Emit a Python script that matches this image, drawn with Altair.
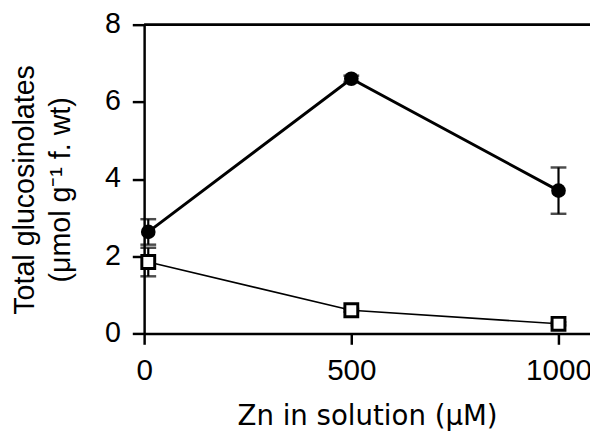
import altair as alt
import pandas as pd

zn = [10, 500, 1000]
filled_mean = [2.63, 6.6, 3.7]
filled_err = [0.33, 0.08, 0.6]
open_mean = [1.85, 0.6, 0.25]
open_err = [0.37, 0.04, 0.04]

rows = []
for x, m, e in zip(zn, filled_mean, filled_err):
    rows.append({"zn": x, "mean": m, "lo": m - e, "hi": m + e, "series": "filled"})
for x, m, e in zip(zn, open_mean, open_err):
    rows.append({"zn": x, "mean": m, "lo": m - e, "hi": m + e, "series": "open"})
df = pd.DataFrame(rows)

FONT = "Liberation Sans"
XTITLE = "Zn in solution (μM)"
YTITLE = ["Total glucosinolates", "(μmol g⁻¹ f. wt)"]

xscale = alt.Scale(domain=[0, 1076], nice=False, zero=False)
yscale = alt.Scale(domain=[0, 8], nice=False)
xaxis = alt.Axis(values=[0, 500, 1000], format="d", labelFlush=False,
                 labelFontSize=30, tickSize=11, labelPadding=12,
                 titleFont="DejaVu Sans", titleFontSize=28, titlePadding=17)
yaxis = alt.Axis(values=[0, 2, 4, 6, 8], labelFontSize=29, tickSize=12,
                 labelPadding=12, labelOffset=-1,
                 titleFontSize=29, titlePadding=30, titleLineHeight=36, titleY=167)

def X():
    return alt.X("zn:Q", scale=xscale, title=XTITLE, axis=xaxis)

def Y(field):
    return alt.Y(field, scale=yscale, title=YTITLE, axis=yaxis)

base = alt.Chart(df)

top_line = base.transform_filter(alt.datum.zn == 10).transform_calculate(t="8").mark_rule(
    color="black", strokeWidth=2.5).encode(y=Y("t:Q"), x=alt.value(0), x2=alt.value(452))

err_rule = base.mark_rule(color="black", strokeWidth=2.2).encode(
    x=X(), y=Y("lo:Q"), y2="hi:Q")
cap_hi = base.mark_tick(color="black", orient="horizontal", size=16, thickness=2.5).encode(
    x=X(), y=Y("hi:Q"))
cap_lo = base.mark_tick(color="black", orient="horizontal", size=16, thickness=2.5).encode(
    x=X(), y=Y("lo:Q"))

line_f = base.transform_filter(alt.datum.series == "filled").mark_line(
    color="black", strokeWidth=3).encode(x=X(), y=Y("mean:Q"))
line_o = base.transform_filter(alt.datum.series == "open").mark_line(
    color="black", strokeWidth=1.6).encode(x=X(), y=Y("mean:Q"))

pts_f = base.transform_filter(alt.datum.series == "filled").mark_point(
    shape="circle", filled=True, color="black", size=220, opacity=1).encode(
    x=X(), y=Y("mean:Q"))
pts_o = base.transform_filter(alt.datum.series == "open").mark_point(
    shape="square", fill="white", stroke="black", strokeWidth=3, size=170, opacity=1,
    fillOpacity=1).encode(x=X(), y=Y("mean:Q"))

chart = alt.layer(line_f, top_line, err_rule, cap_hi, cap_lo, line_o, pts_f, pts_o).properties(
    width=452, height=313,
    autosize=alt.AutoSizeParams(type="none"),
    padding={"left": 138, "top": 14, "right": 0, "bottom": 96},
).configure_view(stroke=None).configure_axis(
    labelFont=FONT, titleFont=FONT, labelColor="black", titleColor="black",
    titleFontWeight="normal", domainColor="black", domainWidth=2.5,
    tickColor="black", tickWidth=2.5, grid=False,
)

chart.save("out.html", embed_options={"renderer": "svg", "actions": False})
